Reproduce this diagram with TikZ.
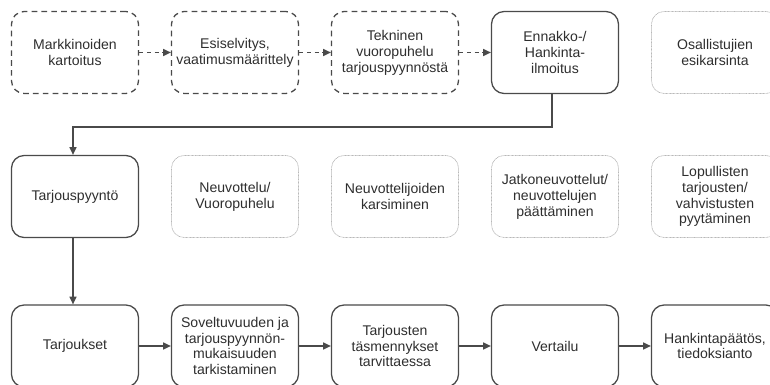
\documentclass[tikz,border=0pt]{standalone}
\usepackage{fontspec}
\setmainfont{Liberation Sans}
\usetikzlibrary{positioning,calc,arrows.meta}
\definecolor{lineg}{HTML}{4A4A4A}
\definecolor{faintg}{HTML}{B8B8B8}
\definecolor{textg}{HTML}{2E2E2E}
\tikzset{font=\fontsize{10}{11.3}\selectfont}
\tikzset{
	phase/.style={draw=lineg, line width=0.9pt, rounded corners=9pt, align=center,
		minimum width=127*0.025cm, minimum height=82*0.025cm, text=textg, inner sep=1pt},
	prephase/.style={phase, dashed, dash pattern=on 4pt off 3pt},
	optphase/.style={phase, draw=faintg, line width=0.5pt, dotted, dash pattern=on 0.6pt off 0.4pt},
	flow/.style={draw=lineg, line width=0.9pt, -{Triangle[length=5.5pt,width=5pt]}},
}

\begin{document}
\begin{tikzpicture}[x=0.025cm, y=-0.025cm]
	\useasboundingbox (0,0) rectangle (770,385);
	\begin{scope}
		% first row
		\node[prephase] (kart) at (75, 52.5) {Markkinoiden\\kartoitus};
		\node[prephase] (esis) at (235, 52.5) {Esiselvitys,\\vaatimusmäärittely};
		\node[prephase] (tekn) at (395, 52.5) {Tekninen\\vuoropuhelu\\tarjouspyynnöstä};
		\node[phase] (ilmo) at (555, 52.5) {Ennakko-/\\Hankinta-\\ilmoitus};
		\node[optphase] (esik) at (715, 52.5) {Osallistujien\\esikarsinta};

		% second row
		\node[phase] (tpyy) at (75, 196.5) {Tarjouspyyntö};
		\node[optphase] (neuv) at (235, 196.5) {Neuvottelu/\\Vuoropuhelu};
		\node[optphase] (nkar) at (395, 196.5) {Neuvottelijoiden\\karsiminen};
		\node[optphase] (jatk) at (555, 196.5) {Jatkoneuvottelut/\\neuvottelujen\\päättäminen};
		\node[optphase] (lopu) at (715, 196.5) {Lopullisten\\tarjousten/\\vahvistusten\\pyytäminen};

		% third row
		\node[phase] (tarj) at (75, 346) {Tarjoukset};
		\node[phase] (sove) at (235, 346) {Soveltuvuuden ja\\tarjouspyynnön-\\mukaisuuden\\tarkistaminen};
		\node[phase] (tasm) at (395, 346) {Tarjousten\\täsmennykset\\tarvittaessa};
		\node[phase] (vert) at (555, 346) {Vertailu};
		\node[phase] (paat) at (715, 346) {Hankintapäätös,\\tiedoksianto};

		\draw[flow, dashed, dash pattern=on 3pt off 2.5pt] (kart) -- (esis);
		\draw[flow, dashed, dash pattern=on 3pt off 2.5pt] (esis) -- (tekn);
		\draw[flow, dashed, dash pattern=on 3pt off 2.5pt] (tekn) -- (ilmo);
		\coordinate (c1) at (552, 127);
		\coordinate (c2) at (73, 127);
		\draw[flow] (ilmo.south -| c1) -- (c1) -- (c2) -- (c2 |- tpyy.north);
		\draw[flow] (tpyy.south -| c2) -- (c2 |- tarj.north);
		\draw[flow] (tarj) -- (sove);
		\draw[flow] (sove) -- (tasm);
		\draw[flow] (tasm) -- (vert);
		\draw[flow] (vert) -- (paat);
	\end{scope}
\end{tikzpicture}
\end{document}
